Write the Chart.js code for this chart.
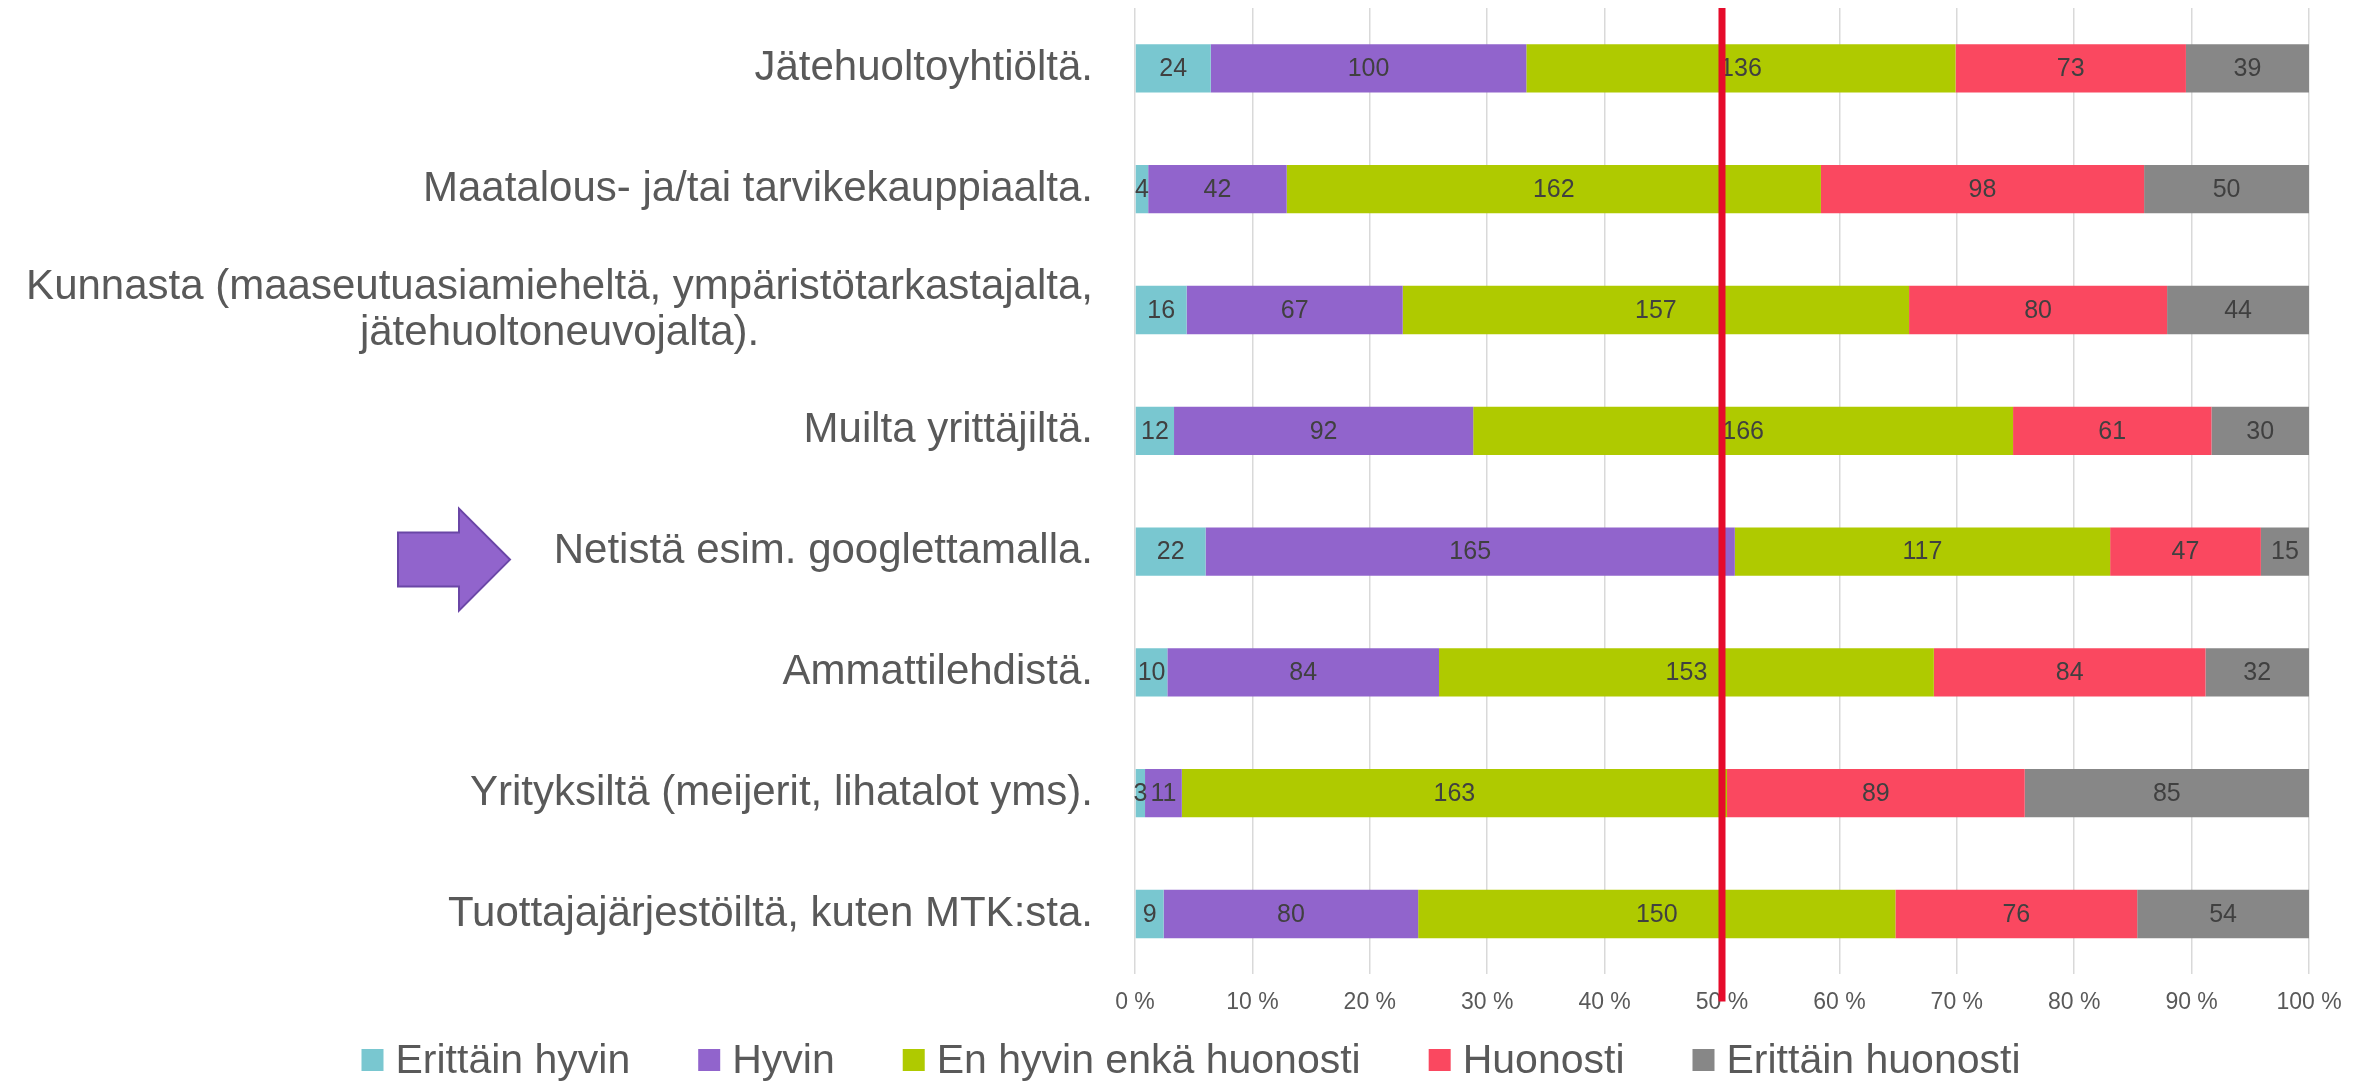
<!DOCTYPE html>
<html>
<head>
<meta charset="utf-8">
<script src="https://cdn.jsdelivr.net/npm/chart.js@4.4.1/dist/chart.umd.min.js"></script>
<style>
  html, body { margin: 0; padding: 0; background: #ffffff; }
  #wrap { width: 2374px; height: 1082px; position: relative; }
</style>
</head>
<body>
<div id="wrap"><canvas id="chartMain"></canvas></div>
<script>
// data (counts per answer)
const categories = [
    "Jätehuoltoyhtiöltä.",
    "Maatalous- ja/tai tarvikekauppiaalta.",
    ["Kunnasta (maaseutuasiamieheltä, ympäristötarkastajalta,", "jätehuoltoneuvojalta)."],
    "Muilta yrittäjiltä.",
    "Netistä esim. googlettamalla.",
    "Ammattilehdistä.",
    "Yrityksiltä (meijerit, lihatalot yms).",
    "Tuottajajärjestöiltä, kuten MTK:sta."
];

const seriesNames = ["Erittäin hyvin", "Hyvin", "En hyvin enkä huonosti", "Huonosti", "Erittäin huonosti"];

const erittainHyvin    = [24, 4, 16, 12, 22, 10, 3, 9];
const hyvin            = [100, 42, 67, 92, 165, 84, 11, 80];
const enHyvinEnka      = [136, 162, 157, 166, 117, 153, 163, 150];
const huonosti         = [73, 98, 80, 61, 47, 84, 89, 76];
const erittainHuonosti = [39, 50, 44, 30, 15, 32, 85, 54];

const xTicks = [0, 10, 20, 30, 40, 50, 60, 70, 80, 90, 100];
const markerValue = 50;          // red line
const arrowCategory = 4;         // row with the arrow

const colors = ["#79C7D0", "#9164CC", "#AFCA00", "#FA4860", "#878787"];
const FONT = '"Liberation Sans", Arial, sans-serif';

let allSeries = [erittainHyvin, hyvin, enHyvinEnka, huonosti, erittainHuonosti];

// row totals -> percent (100 % stacked)
let totals = categories.map((c, i) => allSeries.reduce((s, arr) => s + arr[i], 0));

let datasets = allSeries.map((arr, k) => ({
    label: seriesNames[k],
    data: arr.map((v, i) => v / totals[i] * 100),
    counts: arr,
    backgroundColor: colors[k],
    borderWidth: 0,
    categoryPercentage: 1.0,
    barPercentage: 0.4
}));

// value labels in the middle of each segment
const segmentLabels = {
    id: "segmentLabels",
    afterDatasetsDraw(chart) {
        let ctx = chart.ctx;
        ctx.save();
        ctx.font = "25px " + FONT;
        ctx.fillStyle = "#404040";
        ctx.textAlign = "center";
        ctx.textBaseline = "middle";
        chart.data.datasets.forEach((ds, di) => {
            let meta = chart.getDatasetMeta(di);
            meta.data.forEach((bar, i) => {
                let cx = (bar.x + bar.base) / 2;
                ctx.fillText(String(ds.counts[i]), cx, bar.y + 1);
            });
        });
        ctx.restore();
    }
};

// red 50 % line
const markerLine = {
    id: "markerLine",
    afterDatasetsDraw(chart) {
        let ctx = chart.ctx;
        let x = chart.scales.x.getPixelForValue(markerValue);
        ctx.save();
        ctx.strokeStyle = "#E60B2B";
        ctx.lineWidth = 7;
        ctx.beginPath();
        ctx.moveTo(x, chart.chartArea.top);
        ctx.lineTo(x, chart.chartArea.bottom + 27);
        ctx.stroke();
        ctx.restore();
    }
};

// category labels (multi-line labels centred line by line)
const categoryLabels = {
    id: "categoryLabels",
    afterDraw(chart) {
        let ctx = chart.ctx;
        let yScale = chart.scales.y;
        let right = chart.chartArea.left - 42;
        let lineH = 46;
        ctx.save();
        ctx.font = "42px " + FONT;
        ctx.fillStyle = "#595959";
        ctx.textBaseline = "middle";
        categories.forEach((lab, i) => {
            let lines = Array.isArray(lab) ? lab : [lab];
            let maxW = Math.max(...lines.map(l => ctx.measureText(l).width));
            let cy = yScale.getPixelForValue(i);
            let startY = cy - (lines.length - 1) * lineH / 2;
            ctx.textAlign = "center";
            lines.forEach((l, j) => {
                ctx.fillText(l, right - maxW / 2, startY + j * lineH);
            });
        });
        ctx.restore();
    }
};

// purple arrow pointing at one row
const arrowMark = {
    id: "arrowMark",
    afterDraw(chart) {
        let ctx = chart.ctx;
        let cy = chart.scales.y.getPixelForValue(arrowCategory) + 8;
        let x0 = 398, xs = 459, xt = 510;
        ctx.save();
        ctx.fillStyle = "#9164CC";
        ctx.strokeStyle = "#6A46A6";
        ctx.lineWidth = 2;
        ctx.beginPath();
        ctx.moveTo(x0, cy - 27);
        ctx.lineTo(xs, cy - 27);
        ctx.lineTo(xs, cy - 51);
        ctx.lineTo(xt, cy);
        ctx.lineTo(xs, cy + 51);
        ctx.lineTo(xs, cy + 27);
        ctx.lineTo(x0, cy + 27);
        ctx.closePath();
        ctx.fill();
        ctx.stroke();
        ctx.restore();
    }
};

// legend at the bottom, centred
const bottomLegend = {
    id: "bottomLegend",
    afterDraw(chart) {
        let ctx = chart.ctx;
        ctx.save();
        ctx.font = "41px " + FONT;
        ctx.textBaseline = "middle";
        ctx.textAlign = "left";
        let boxSize = 22, boxGap = 12, itemGap = 68;
        let items = chart.data.datasets.map(ds => ({
            text: ds.label,
            color: ds.backgroundColor,
            w: ctx.measureText(ds.label).width
        }));
        let total = items.reduce((s, it) => s + boxSize + boxGap + it.w, 0) + itemGap * (items.length - 1);
        let x = chart.width / 2 - total / 2 + 4;
        let y = chart.height - 22;
        items.forEach(it => {
            ctx.fillStyle = it.color;
            ctx.fillRect(x, y - boxSize / 2, boxSize, boxSize);
            x += boxSize + boxGap;
            ctx.fillStyle = "#595959";
            ctx.fillText(it.text, x, y + 2);
            x += it.w + itemGap;
        });
        ctx.restore();
    }
};

let ctx1 = document.getElementById("chartMain");

window.barChart = new Chart(ctx1, {
    type: "bar",
    data: {
        labels: categories,
        datasets: datasets
    },
    options: {
        indexAxis: "y",
        responsive: true,
        maintainAspectRatio: false,
        animation: false,
        layout: {
            padding: { top: 8, right: 65, bottom: 52, left: 0 }
        },
        plugins: {
            legend: { display: false },
            tooltip: { enabled: false },
            title: { display: false }
        },
        scales: {
            x: {
                stacked: true,
                min: 0,
                max: 100,
                afterBuildTicks(scale) {
                    scale.ticks = xTicks.map(v => ({ value: v }));
                },
                ticks: {
                    callback: v => v + " %",
                    color: "#595959",
                    font: { family: FONT, size: 23 },
                    padding: 14,
                    maxRotation: 0
                },
                grid: {
                    color: "#D9D9D9",
                    lineWidth: 1.5,
                    drawTicks: false
                },
                border: { display: false }
            },
            y: {
                stacked: true,
                ticks: { display: false },
                grid: { display: false },
                border: { display: false },
                afterFit(scale) {
                    scale.width = 1135;
                }
            }
        }
    },
    plugins: [segmentLabels, markerLine, categoryLabels, arrowMark, bottomLegend]
});
</script>
</body>
</html>
